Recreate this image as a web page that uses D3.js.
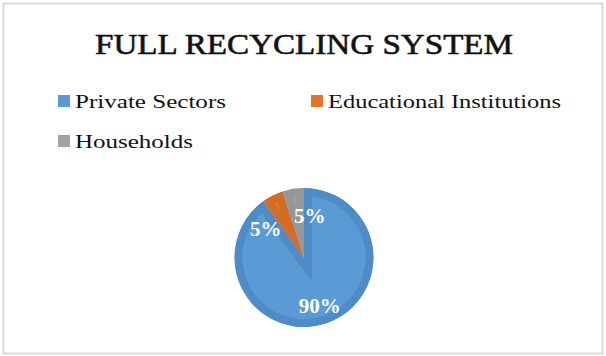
<!DOCTYPE html>
<html><head><meta charset="utf-8">
<script src="https://cdn.jsdelivr.net/npm/d3@7"></script>
<style>body{margin:0;background:#fff}svg{display:block}</style>
</head><body>
<svg id="c" width="606" height="356"></svg>
<script>
const title = "FULL RECYCLING SYSTEM";
const categories = ["Private Sectors", "Educational Institutions", "Households"];
const values = [90, 5, 5];
const labels = ["90%", "5%", "5%"];
const fills = ["#5b9bd5", "#e2742c", "#a2a2a2"];
const rims = ["#4f8bc6", "#d46b27", "#979797"];

const svg = d3.select("#c");
svg.append("rect").attr("x", 3.5).attr("y", 3.5).attr("width", 599).attr("height", 350)
  .attr("fill", "#fff").attr("stroke", "#d9d9d9").attr("stroke-width", 2);

const font = "Liberation Serif, Times New Roman, serif";
svg.append("text").attr("x", 304).attr("y", 54).attr("text-anchor", "middle")
  .attr("font-family", font).attr("font-size", 30).attr("font-weight", "normal")
  .attr("stroke", "#111").attr("stroke-width", 0.6)
  .attr("fill", "#111").attr("textLength", 418).attr("lengthAdjust", "spacingAndGlyphs")
  .text(title);

// legend
const legPos = [[58, 95, 151], [311, 95, 233], [58, 135, 118]];
categories.forEach((c, i) => {
  const [x, y, w] = legPos[i];
  svg.append("rect").attr("x", x).attr("y", y).attr("width", 12).attr("height", 12).attr("fill", fills[i]);
  svg.append("text").attr("x", x + 17).attr("y", y + 13).attr("font-family", font)
    .attr("font-size", 19).attr("fill", "#111").attr("textLength", w).attr("lengthAdjust", "spacingAndGlyphs").text(c);
});

// pie
const cx = 304, cy = 257.5, R = 69.5;
const pie = d3.pie().sort(null).value(d => d)(values);
const arc = d3.arc().innerRadius(0).outerRadius(R);
const g = svg.append("g").attr("transform", `translate(${cx},${cy})`);
const defs = svg.append("defs");
pie.forEach((p, i) => {
  defs.append("clipPath").attr("id", "cp" + i).append("path").attr("d", arc(p));
  g.append("path").attr("d", arc(p)).attr("fill", fills[i])
    .attr("stroke", rims[i]).attr("stroke-width", 16).attr("clip-path", `url(#cp${i})`);
});
// label placement (polar: angle in degrees clockwise from top, radius)
const labelPolar = [[162, 51], [307, 48], [8, 42]];
pie.forEach((p, i) => {
  const [a, r] = labelPolar[i];
  const t = a * Math.PI / 180;
  g.append("text").attr("x", r * Math.sin(t)).attr("y", -r * Math.cos(t) + 7)
    .attr("text-anchor", "middle").attr("font-family", font).attr("font-size", 21)
    .attr("font-weight", "bold").attr("fill", "#fff").text(labels[i]);
});
</script>
</body></html>
